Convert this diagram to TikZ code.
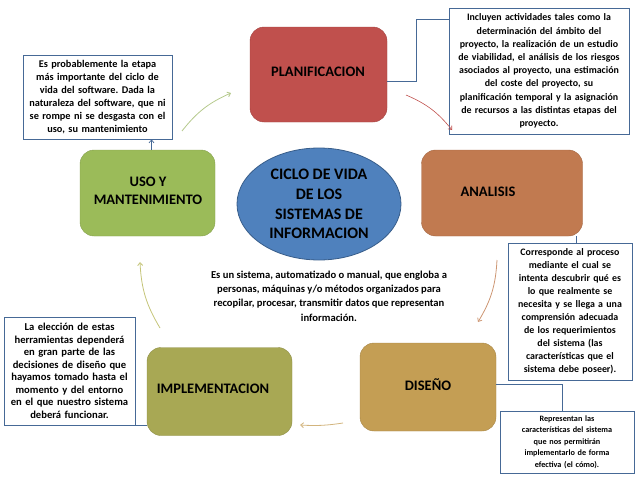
\documentclass[tikz,border=0pt]{standalone}
\usepackage{fontspec}
\setmainfont{Carlito}
\frenchspacing
\usetikzlibrary{arrows.meta,shapes.geometric}
\definecolor{planc}{RGB}{192,80,77}
\definecolor{analc}{RGB}{193,122,80}
\definecolor{usoc}{RGB}{155,187,89}
\definecolor{implc}{RGB}{168,168,84}
\definecolor{disc}{RGB}{196,158,84}
\definecolor{ellc}{RGB}{79,129,189}
\definecolor{elld}{RGB}{56,93,138}
\definecolor{boxc}{RGB}{70,105,150}
\tikzset{
  stagebox/.style={rounded corners=14pt, fill=#1, draw=#1!85!black, line width=0.4pt},
  stagetext/.style={font=\bfseries\fontsize{14.5}{18.5}\selectfont, align=center, text=black},
  callout/.style={draw=boxc, line width=0.7pt, fill=white, align=center, inner sep=1pt,
    font=\bfseries\fontsize{9.9}{13.2}\selectfont},
  conn/.style={draw=boxc, line width=0.7pt},
  cyc/.style={line width=0.8pt, -{Straight Barb[length=3pt,width=5pt]}, bend left=14},
}
\begin{document}
\begin{tikzpicture}[x=1pt,y=-1pt]
\useasboundingbox (0,0) rectangle (638,479);
% stage shapes
\node[stagebox=planc, minimum width=137, minimum height=95] (plan) at (318.5,74.5) {};
\node[stagetext] (plant) at (318,72) {PLANIFICACION};
\node[stagebox=analc, minimum width=161, minimum height=86] (anal) at (502,193) {};
\node[stagetext] (analt) at (488,192) {ANALISIS};
\node[stagebox=usoc, minimum width=135, minimum height=86] (uso) at (147.5,193) {};
\node[stagetext] (usot) at (148,191) {USO Y\\MANTENIMIENTO};
\node[stagebox=implc, minimum width=145, minimum height=88] (impl) at (219.5,391.5) {};
\node[stagetext] (implt) at (213,389) {IMPLEMENTACION};
\node[stagebox=disc, minimum width=136, minimum height=88] (dis) at (428,387) {};
\node[stagetext] (dist) at (428,385) {DISEÑO};
% centre
\node[ellipse, fill=ellc, draw=elld, line width=0.8pt, minimum width=164, minimum height=112,
  font=\bfseries\fontsize{16}{19.7}\selectfont, align=center, inner sep=0pt] (ell) at (319,204)
  {CICLO DE VIDA\\DE LOS\\SISTEMAS DE\\INFORMACION};
\node[font=\bfseries\fontsize{10.6}{14.3}\selectfont, align=center] (desc) at (329,296)
  {Es un sistema, automatizado o manual, que engloba a\\personas, máquinas y/o métodos organizados para\\recopilar, procesar, transmitir datos que representan\\información.};
% callouts
\node[callout, minimum width=149, minimum height=84, text width=147,
  font=\bfseries\fontsize{10.3}{13}\selectfont] (tl) at (97.5,97)
  {Es probablemente la etapa\\más importante del ciclo de\\vida del software. Dada la\\naturaleza del software, que ni\\se rompe ni se desgasta con el\\uso, su mantenimiento};
\node[callout, minimum width=180, minimum height=126, text width=178] (tr) at (539,71)
  {Incluyen actividades tales como la\\determinación del ámbito del\\proyecto, la realización de un estudio\\de viabilidad, el análisis de los riesgos\\asociados al proyecto, una estimación\\del coste del proyecto, su\\planificación temporal y la asignación\\de recursos a las distintas etapas del\\proyecto.};
\node[callout, minimum width=124, minimum height=137, text width=122,
  font=\bfseries\fontsize{9.9}{13}\selectfont] (ac) at (570,311.5)
  {Corresponde al proceso\\mediante el cual se\\intenta descubrir qué es\\lo que realmente se\\necesita y se llega a una\\comprensión adecuada\\de los requerimientos\\del sistema (las\\características que el\\sistema debe poseer).};
\node[callout, minimum width=134, minimum height=62, text width=132,
  font=\bfseries\fontsize{8.2}{11.5}\selectfont] (dc) at (567,442)
  {Representan las\\características del sistema\\que nos permitirán\\implementarlo de forma\\efectiva (el cómo).};
\node[callout, minimum width=131, minimum height=108, text width=129,
  font=\bfseries\fontsize{10.6}{12.5}\selectfont] (ic) at (69.5,371)
  {La elección de estas\\herramientas dependerá\\en gran parte de las\\decisiones de diseño que\\hayamos tomado hasta el\\momento y del entorno\\en el que nuestro sistema\\deberá funcionar.};
% callout connectors
\draw[conn, -{Straight Barb[length=3pt,width=5pt]}] ([xshift=4pt]uso.north) -- ([xshift=4pt]uso.north |- tl.south);
\draw[conn] ([yshift=-6.5pt]plan.east) -- ++(29,0) |- ([yshift=-12pt]tr.north west);
\draw[conn] ([xshift=6pt]ac.north) -- ([xshift=6pt]ac.north |- anal.south);
\draw[conn] ([yshift=3pt]dis.east) -| ([xshift=-5pt]dc.north);
\draw[conn] (ic.south east) -- (ic.south east -| impl.west);
% cycle arrows
\coordinate (a1s) at (182,131); \coordinate (a1e) at (231,93);
\coordinate (a2s) at (406,95);  \coordinate (a2e) at (452,130);
\coordinate (a3s) at (497,260); \coordinate (a3e) at (478,322);
\coordinate (a4s) at (343,423); \coordinate (a4e) at (300,425);
\coordinate (a5s) at (160,328); \coordinate (a5e) at (140,262);
\draw[cyc, draw={rgb,255:red,181;green,201;blue,140}] (a1s) to (a1e);
\draw[cyc, draw={rgb,255:red,192;green,80;blue,77}, line width=0.6pt] (a2s) to (a2e);
\draw[cyc, draw={rgb,255:red,205;green,150;blue,115}] (a3s) to (a3e);
\draw[cyc, draw={rgb,255:red,210;green,180;blue,125}, bend left=6] (a4s) to (a4e);
\draw[cyc, draw={rgb,255:red,196;green,196;blue,120}] (a5s) to (a5e);
\end{tikzpicture}
\end{document}
